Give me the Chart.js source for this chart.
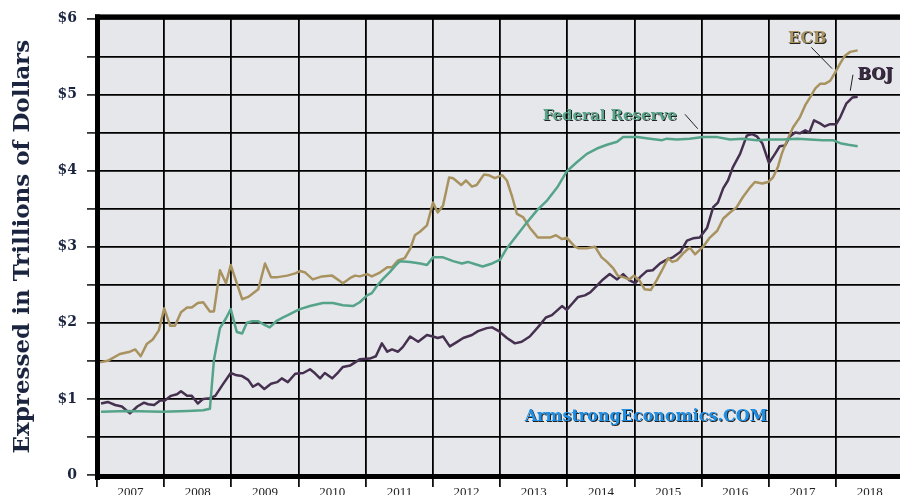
<!DOCTYPE html>
<html>
<head>
<meta charset="utf-8">
<script src="https://cdn.jsdelivr.net/npm/chart.js@4"></script>
<style>
html, body { margin: 0; padding: 0; background: #fff; overflow: hidden; }
#wrap { width: 900px; height: 495px; position: relative; }
</style>
</head>
<body>
<div id="wrap"><canvas id="chart"></canvas></div>
<script>
// Balance sheets, trillions of dollars
const yearLabels = [2007, 2008, 2009, 2010, 2011, 2012, 2013, 2014, 2015, 2016, 2017, 2018];

const ecbYears = [2007.03, 2007.16, 2007.34, 2007.49, 2007.57, 2007.65, 2007.74, 2007.83, 2007.92, 2008.00,
    2008.09, 2008.16, 2008.25, 2008.34, 2008.41, 2008.50, 2008.58, 2008.68, 2008.74, 2008.83,
    2008.92, 2008.99, 2009.08, 2009.16, 2009.25, 2009.40, 2009.50, 2009.59, 2009.69, 2009.83,
    2009.95, 2010.02, 2010.10, 2010.21, 2010.35, 2010.50, 2010.66, 2010.77, 2010.84, 2010.91,
    2011.02, 2011.09, 2011.21, 2011.32, 2011.39, 2011.48, 2011.58, 2011.66, 2011.73, 2011.81,
    2011.91, 2012.00, 2012.07, 2012.15, 2012.24, 2012.30, 2012.42, 2012.49, 2012.58, 2012.65,
    2012.76, 2012.83, 2012.92, 2013.03, 2013.10, 2013.18, 2013.25, 2013.34, 2013.44, 2013.56,
    2013.67, 2013.74, 2013.83, 2013.92, 2013.99, 2014.11, 2014.17, 2014.29, 2014.41, 2014.51,
    2014.59, 2014.68, 2014.75, 2014.83, 2014.92, 2014.99, 2015.07, 2015.15, 2015.24, 2015.33,
    2015.42, 2015.50, 2015.56, 2015.63, 2015.72, 2015.82, 2015.90, 2016.02, 2016.12, 2016.23,
    2016.32, 2016.42, 2016.52, 2016.61, 2016.72, 2016.79, 2016.90, 2016.99, 2017.06, 2017.13,
    2017.19, 2017.27, 2017.36, 2017.46, 2017.54, 2017.61, 2017.69, 2017.76, 2017.83, 2017.91,
    2017.98, 2018.06, 2018.13, 2018.21, 2018.32];
const ecbValues = [1.48, 1.50, 1.59, 1.62, 1.65, 1.56, 1.72, 1.78, 1.90, 2.19,
    1.96, 1.96, 2.14, 2.20, 2.20, 2.26, 2.27, 2.15, 2.15, 2.69,
    2.52, 2.76, 2.52, 2.31, 2.34, 2.44, 2.78, 2.60, 2.60, 2.62,
    2.65, 2.68, 2.66, 2.57, 2.61, 2.62, 2.52, 2.59, 2.62, 2.61,
    2.64, 2.61, 2.66, 2.73, 2.73, 2.82, 2.85, 2.97, 3.15, 3.20,
    3.28, 3.58, 3.45, 3.54, 3.91, 3.90, 3.81, 3.87, 3.79, 3.81,
    3.95, 3.94, 3.90, 3.94, 3.87, 3.65, 3.43, 3.39, 3.25, 3.12,
    3.12, 3.12, 3.15, 3.10, 3.12, 3.00, 2.98, 2.98, 3.00, 2.86,
    2.80, 2.72, 2.62, 2.60, 2.57, 2.62, 2.56, 2.44, 2.43, 2.56,
    2.71, 2.85, 2.80, 2.82, 2.91, 2.99, 2.90, 3.00, 3.12, 3.21,
    3.37, 3.45, 3.52, 3.65, 3.78, 3.85, 3.83, 3.85, 3.91, 4.04,
    4.22, 4.40, 4.57, 4.70, 4.86, 4.96, 5.08, 5.14, 5.14, 5.18,
    5.28, 5.41, 5.51, 5.56, 5.58];

const fedYears = [2007.06, 2007.46, 2007.97, 2008.35, 2008.58, 2008.68, 2008.74, 2008.83, 2008.92, 2008.99,
    2009.08, 2009.16, 2009.23, 2009.31, 2009.40, 2009.50, 2009.57, 2009.68, 2009.77, 2009.84,
    2009.95, 2010.02, 2010.17, 2010.36, 2010.51, 2010.66, 2010.81, 2010.91, 2011.02, 2011.09,
    2011.17, 2011.26, 2011.36, 2011.46, 2011.51, 2011.66, 2011.81, 2011.91, 2012.00, 2012.15,
    2012.30, 2012.43, 2012.52, 2012.63, 2012.74, 2012.88, 2013.00, 2013.10, 2013.25, 2013.40,
    2013.55, 2013.70, 2013.85, 2013.99, 2014.14, 2014.29, 2014.44, 2014.59, 2014.74, 2014.83,
    2015.04, 2015.23, 2015.41, 2015.48, 2015.63, 2015.82, 2016.02, 2016.23, 2016.42, 2016.61,
    2016.82, 2017.01, 2017.21, 2017.42, 2017.61, 2017.80, 2017.95, 2018.06, 2018.18, 2018.32];
const fedValues = [0.83, 0.84, 0.83, 0.84, 0.85, 0.87, 1.51, 1.93, 2.06, 2.18,
    1.88, 1.86, 2.00, 2.02, 2.02, 1.97, 1.94, 2.03, 2.07, 2.10,
    2.15, 2.18, 2.22, 2.26, 2.26, 2.23, 2.22, 2.27, 2.36, 2.39,
    2.49, 2.58, 2.67, 2.77, 2.81, 2.80, 2.78, 2.76, 2.86, 2.86,
    2.81, 2.78, 2.80, 2.77, 2.74, 2.78, 2.83, 2.98, 3.15, 3.32,
    3.48, 3.61, 3.78, 3.99, 4.11, 4.22, 4.29, 4.34, 4.38, 4.44,
    4.44, 4.42, 4.40, 4.42, 4.41, 4.42, 4.44, 4.44, 4.41, 4.42,
    4.40, 4.41, 4.41, 4.42, 4.41, 4.40, 4.40, 4.36, 4.34, 4.32];

const bojYears = [2007.06, 2007.16, 2007.27, 2007.37, 2007.49, 2007.60, 2007.70, 2007.76, 2007.85, 2007.94,
    2008.01, 2008.10, 2008.19, 2008.25, 2008.34, 2008.41, 2008.50, 2008.58, 2008.68, 2008.76,
    2008.88, 2008.99, 2009.08, 2009.16, 2009.25, 2009.32, 2009.40, 2009.49, 2009.59, 2009.68,
    2009.75, 2009.84, 2009.95, 2010.07, 2010.17, 2010.24, 2010.32, 2010.39, 2010.50, 2010.59,
    2010.66, 2010.77, 2010.91, 2011.06, 2011.15, 2011.24, 2011.32, 2011.39, 2011.48, 2011.55,
    2011.66, 2011.78, 2011.91, 2012.00, 2012.07, 2012.15, 2012.25, 2012.36, 2012.45, 2012.58,
    2012.67, 2012.80, 2012.88, 2012.98, 2013.10, 2013.22, 2013.32, 2013.44, 2013.56, 2013.68,
    2013.77, 2013.92, 2013.99, 2014.08, 2014.16, 2014.26, 2014.34, 2014.44, 2014.53, 2014.63,
    2014.74, 2014.83, 2014.92, 2015.01, 2015.08, 2015.18, 2015.27, 2015.38, 2015.48, 2015.57,
    2015.68, 2015.78, 2015.87, 2015.97, 2016.08, 2016.17, 2016.24, 2016.32, 2016.39, 2016.46,
    2016.57, 2016.67, 2016.75, 2016.82, 2016.90, 2017.00, 2017.09, 2017.16, 2017.24, 2017.31,
    2017.39, 2017.46, 2017.54, 2017.60, 2017.67, 2017.76, 2017.83, 2017.91, 2018.00, 2018.06,
    2018.15, 2018.24, 2018.32];
const bojValues = [0.94, 0.96, 0.92, 0.90, 0.81, 0.90, 0.95, 0.93, 0.92, 0.98,
    0.98, 1.04, 1.06, 1.10, 1.04, 1.04, 0.94, 1.00, 1.01, 1.04,
    1.20, 1.34, 1.31, 1.30, 1.25, 1.16, 1.20, 1.13, 1.20, 1.22,
    1.27, 1.22, 1.33, 1.34, 1.39, 1.34, 1.27, 1.34, 1.27, 1.35,
    1.42, 1.44, 1.52, 1.53, 1.56, 1.73, 1.62, 1.65, 1.62, 1.68,
    1.82, 1.75, 1.84, 1.82, 1.80, 1.82, 1.69, 1.75, 1.80, 1.84,
    1.89, 1.93, 1.94, 1.89, 1.80, 1.73, 1.75, 1.82, 1.94, 2.07,
    2.10, 2.22, 2.17, 2.26, 2.34, 2.36, 2.40, 2.49, 2.57, 2.64,
    2.57, 2.64, 2.56, 2.52, 2.60, 2.68, 2.69, 2.78, 2.83, 2.86,
    2.93, 3.08, 3.11, 3.12, 3.25, 3.52, 3.58, 3.77, 3.87, 4.04,
    4.22, 4.46, 4.48, 4.45, 4.36, 4.10, 4.22, 4.32, 4.33, 4.45,
    4.50, 4.49, 4.53, 4.50, 4.66, 4.62, 4.58, 4.61, 4.61, 4.70,
    4.88, 4.96, 4.97];

const toPoints = (xs, ys) => xs.map((x, i) => ({ x: x, y: ys[i] }));

const ink = '#1b2540';
const serif = '"DejaVu Serif", "Liberation Serif", serif';

// text labels and leader lines, placed in data units
const notes = [
    { text: 'Federal Reserve', x: 2014.63, y: 4.71, color: '#5aa58a', size: 15, line: [2015.75, 4.74, 2015.94, 4.55] },
    { text: 'ECB', x: 2017.57, y: 5.73, color: '#a8925f', size: 16, line: [2017.63, 5.62, 2017.94, 5.34] },
    { text: 'BOJ', x: 2018.58, y: 5.26, color: '#3b2946', size: 16, line: [2018.25, 5.26, 2018.21, 5.05] },
    { text: 'ArmstrongEconomics.COM', x: 2015.17, y: 0.76, color: '#1e8fe6', size: 16 }
];

const framePlugin = {
    id: 'frame',
    beforeDraw(chart) {
        const { ctx, chartArea: a } = chart;
        ctx.save();
        ctx.fillStyle = '#e6e7eb';
        ctx.fillRect(a.left, a.top, a.right - a.left, a.bottom - a.top);
        ctx.restore();
    },
    afterDraw(chart) {
        const { ctx, chartArea: a, scales } = chart;
        ctx.save();
        // heavy frame
        ctx.fillStyle = '#000';
        ctx.fillRect(a.left - 2, a.top - 4, a.right - a.left + 4, 5);
        ctx.fillRect(a.left - 2, a.top - 4, 5, a.bottom - a.top + 9);
        ctx.fillRect(a.left - 2, a.bottom - 1, a.right - a.left + 4, 5);

        notes.forEach(n => {
            if (n.line) {
                ctx.strokeStyle = '#222';
                ctx.lineWidth = 1;
                ctx.beginPath();
                ctx.moveTo(scales.x.getPixelForValue(n.line[0]), scales.y.getPixelForValue(n.line[1]));
                ctx.lineTo(scales.x.getPixelForValue(n.line[2]), scales.y.getPixelForValue(n.line[3]));
                ctx.stroke();
            }
            ctx.font = 'bold ' + n.size + 'px ' + serif;
            ctx.textAlign = 'center';
            ctx.textBaseline = 'middle';
            ctx.shadowColor = 'rgba(0,0,0,0.85)';
            ctx.shadowOffsetX = 1;
            ctx.shadowOffsetY = 1;
            ctx.shadowBlur = 0;
            ctx.fillStyle = n.color;
            ctx.fillText(n.text, scales.x.getPixelForValue(n.x), scales.y.getPixelForValue(n.y));
            ctx.shadowColor = 'transparent';
        });
        ctx.restore();
    }
};

new Chart(document.getElementById('chart'), {
    type: 'line',
    data: {
        datasets: [
            {
                label: 'Federal Reserve',
                data: toPoints(fedYears, fedValues),
                borderColor: '#55a389',
                borderWidth: 2.5
            },
            {
                label: 'ECB',
                data: toPoints(ecbYears, ecbValues),
                borderColor: '#a8925f',
                borderWidth: 2.5
            },
            {
                label: 'BOJ',
                data: toPoints(bojYears, bojValues),
                borderColor: '#45304f',
                borderWidth: 2.5
            }
        ]
    },
    options: {
        responsive: true,
        maintainAspectRatio: false,
        animation: false,
        elements: {
            point: { radius: 0 },
            line: { tension: 0, borderJoinStyle: 'round' }
        },
        layout: { padding: { top: 18, right: 0, left: 0, bottom: 0 } },
        plugins: {
            legend: { display: false },
            tooltip: { enabled: false }
        },
        scales: {
            x: {
                type: 'linear',
                min: 2007,
                max: 2018.95,
                afterFit: s => { s.height = 20; },
                afterBuildTicks: s => {
                    const t = [];
                    yearLabels.forEach(y => { t.push({ value: y }); t.push({ value: y + 0.5 }); });
                    s.ticks = t;
                },
                border: { display: false },
                grid: {
                    color: c => (c.tick && c.tick.value % 1 === 0) ? '#000' : 'transparent',
                    lineWidth: 1.8,
                    tickLength: 12,
                    tickColor: c => (c.tick && c.tick.value % 1 === 0) ? '#111' : 'transparent'
                },
                ticks: {
                    autoSkip: false,
                    maxRotation: 0,
                    padding: -2,
                    color: '#222',
                    font: { family: '"Liberation Serif", serif', size: 13 },
                    callback: v => (v % 1 === 0) ? '' : String(Math.floor(v))
                }
            },
            y: {
                min: 0,
                max: 6,
                afterFit: s => { s.width = 97; },
                border: { display: false },
                grid: {
                    color: '#000',
                    lineWidth: 1.8,
                    tickLength: 10,
                    tickColor: '#333'
                },
                ticks: {
                    stepSize: 0.5,
                    padding: 10,
                    color: ink,
                    font: { family: serif, size: 14, weight: 'bold' },
                    callback: v => (v % 1 !== 0) ? '' : (v === 0 ? '0' : '$' + v)
                },
                title: {
                    display: true,
                    text: 'Expressed in Trillions of Dollars',
                    color: ink,
                    padding: { top: 9, bottom: 0 },
                    font: { family: serif, size: 23, weight: 'bold' }
                }
            }
        }
    },
    plugins: [framePlugin]
});
</script>
</body>
</html>
